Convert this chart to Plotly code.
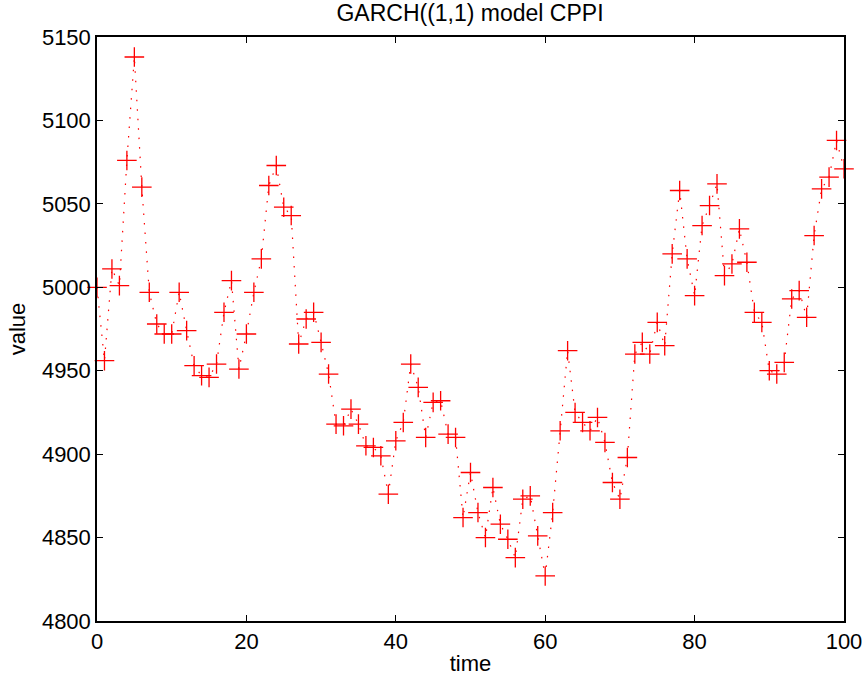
import plotly.graph_objects as go

time = list(range(0, 101))
values = [
    5000, 4956, 5011, 5001, 5076, 5138, 5060, 4997, 4978, 4972,
    4972, 4997, 4974, 4953, 4947, 4946, 4954, 4985, 5004, 4951,
    4972, 4997, 5017, 5061, 5073, 5048, 5043, 4966, 4981, 4985,
    4967, 4948, 4918, 4917, 4927, 4918, 4905, 4904, 4899, 4876,
    4908, 4919, 4954, 4940, 4910, 4931, 4932, 4912, 4910, 4862,
    4889, 4865, 4850, 4880, 4858, 4849, 4838, 4873, 4875, 4851,
    4827, 4865, 4914, 4962, 4925, 4919, 4914, 4922, 4907, 4883,
    4873, 4898, 4960, 4967, 4960, 4979, 4965, 5020, 5058, 5017,
    4995, 5037, 5049, 5062, 5007, 5014, 5035, 5015, 4985, 4979,
    4950, 4948, 4955, 4993, 4998, 4982, 5031, 5059, 5066, 5088,
    5071,
]
x_ticks = [0, 20, 40, 60, 80, 100]
y_ticks = [4800, 4850, 4900, 4950, 5000, 5050, 5100, 5150]

font = "Liberation Sans, Arial, Helvetica, sans-serif"

fig = go.Figure()
fig.add_trace(go.Scatter(
    x=time, y=values, mode="lines+markers",
    line=dict(color="red", width=1.2, dash="1.5px,8px"),
    marker=dict(symbol="cross-thin-open", size=14, color="red",
                line=dict(color="red", width=1.3)),
    showlegend=False,
    cliponaxis=False,
))

axis_common = dict(
    showgrid=False, zeroline=False, showline=True, linecolor="black",
    linewidth=1.5, mirror="ticks", ticks="inside", ticklen=6,
    tickcolor="black", tickwidth=1, automargin=False,
    tickfont=dict(family=font, size=22, color="black"),
)

fig.update_layout(
    width=866, height=688,
    paper_bgcolor="white", plot_bgcolor="white",
    margin=dict(l=97, r=22, t=37, b=67),
    font=dict(family=font, color="black"),
    title=dict(text="GARCH((1,1) model CPPI", x=470 / 866, xanchor="center",
               y=1 - 12.5 / 688, yanchor="middle",
               font=dict(family=font, size=23, color="black")),
    xaxis=dict(range=[0, 100], tickvals=x_ticks,
               title=dict(text="time", standoff=2,
                          font=dict(family=font, size=22, color="black")),
               **axis_common),
    yaxis=dict(range=[4800, 5150], tickvals=y_ticks,
               title=dict(text="value", standoff=10,
                          font=dict(family=font, size=22, color="black")),
               **axis_common),
)

fig.write_html("out.html", config={"displayModeBar": False},
               post_script="document.body.style.margin='0';")
